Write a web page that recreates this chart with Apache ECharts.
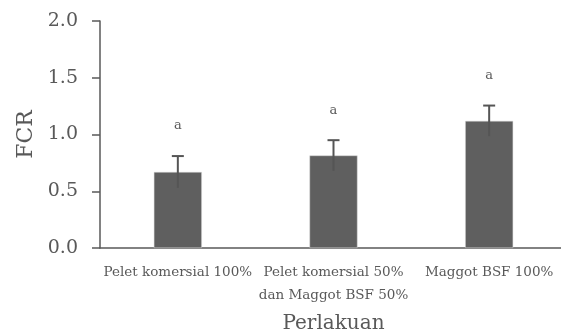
<!DOCTYPE html>
<html>
<head>
<meta charset="utf-8">
<script src="https://cdn.jsdelivr.net/npm/echarts@6/dist/echarts.min.js"></script>
<style>
  html, body { margin: 0; padding: 0; background: #fff; }
  #chart { width: 561px; height: 336px; }
</style>
</head>
<body>
<div id="chart"></div>
<script>
// data
var categories = ["Pelet komersial 100%", "Pelet komersial 50%\ndan Maggot BSF 50%", "Maggot BSF 100%"];
var fcrMean = [0.67, 0.815, 1.12];
var fcrErr = [0.14, 0.135, 0.135];
var letters = ["a", "a", "a"];

var fontFam = "DejaVu Serif";
var axisColor = "#595959";

var myChart = echarts.init(document.getElementById("chart"));

var errData = fcrMean.map(function (m, i) {
    return [i, m - fcrErr[i], m + fcrErr[i], letters[i]];
});

var option = {
    animation: false,
    grid: { left: 100, width: 467, top: 21, bottom: 88, outerBoundsMode: "none", containLabel: false },
    xAxis: {
        type: "category",
        data: categories,
        name: "Perlakuan",
        nameLocation: "middle",
        nameGap: 66,
        nameTextStyle: { fontFamily: fontFam, fontSize: 20, color: axisColor },
        axisLine: { lineStyle: { color: axisColor, width: 1.5 } },
        axisTick: { show: false },
        axisLabel: {
            fontFamily: fontFam, fontSize: 13.5, color: axisColor,
            margin: 13, lineHeight: 23, interval: 0
        }
    },
    yAxis: {
        type: "value",
        min: 0, max: 2, interval: 0.5,
        name: "FCR",
        nameLocation: "middle",
        nameGap: 63,
        nameTextStyle: { fontFamily: fontFam, fontSize: 22, color: axisColor },
        splitLine: { show: false },
        axisLine: { show: true, lineStyle: { color: axisColor, width: 1.5 } },
        axisTick: { show: true, length: 8, lineStyle: { color: axisColor, width: 1.5 } },
        axisLabel: {
            fontFamily: fontFam, fontSize: 19, color: axisColor, margin: 22,
            formatter: function (v) { return v.toFixed(1); }
        }
    },
    series: [
        {
            type: "bar",
            data: fcrMean,
            barWidth: 48,
            itemStyle: { color: "#5f5f5f", borderColor: "#d9d9d9", borderWidth: 0.5 }
        },
        {
            type: "custom",
            data: errData,
            z: 10,
            renderItem: function (params, api) {
                var x = api.value(0);
                var lo = api.coord([x, api.value(1)]);
                var hi = api.coord([x, api.value(2)]);
                var cap = 6;
                var st = { stroke: "#555555", lineWidth: 2 };
                return {
                    type: "group",
                    children: [
                        { type: "line", shape: { x1: hi[0], y1: hi[1], x2: lo[0], y2: lo[1] }, style: st },
                        { type: "line", shape: { x1: hi[0] - cap, y1: hi[1], x2: hi[0] + cap, y2: hi[1] }, style: st },
                        {
                            type: "text",
                            x: hi[0], y: hi[1] - 30,
                            style: {
                                text: api.value(3), fill: axisColor,
                                font: "13px " + fontFam,
                                align: "center", verticalAlign: "middle"
                            }
                        }
                    ]
                };
            }
        }
    ]
};

myChart.setOption(option);
</script>
</body>
</html>
